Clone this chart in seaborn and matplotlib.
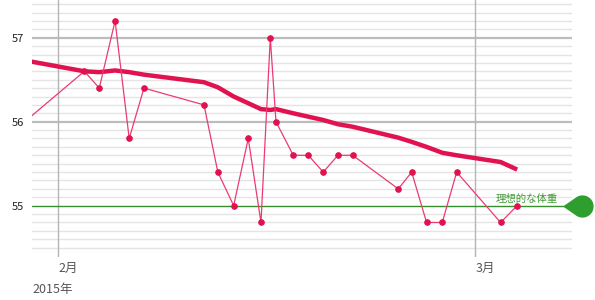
import numpy as np
import pandas as pd
import matplotlib
matplotlib.use("Agg")
import matplotlib.pyplot as plt
import matplotlib.dates as mdates
import matplotlib.transforms as mtransforms
from matplotlib.path import Path
import seaborn as sns

# ---- data ----
dates = ["2015-01-29 18:00", "2015-02-02 18:00", "2015-02-03 18:00", "2015-02-04 19:30",
         "2015-02-05 18:15", "2015-02-06 18:00", "2015-02-10 18:45", "2015-02-11 17:00",
         "2015-02-12 18:30", "2015-02-13 18:00", "2015-02-14 14:30", "2015-02-15 05:30",
         "2015-02-15 14:40", "2015-02-16 18:30", "2015-02-17 18:45", "2015-02-18 18:45",
         "2015-02-19 18:30", "2015-02-20 18:15", "2015-02-23 19:40", "2015-02-24 17:15",
         "2015-02-25 17:15", "2015-02-26 18:30", "2015-02-27 17:45", "2015-03-02 16:30",
         "2015-03-03 19:10"]
weight = [56.0, 56.6, 56.4, 57.2, 55.8, 56.4, 56.2, 55.4, 55.0, 55.8, 54.8, 57.0,
          56.0, 55.6, 55.6, 55.4, 55.6, 55.6, 55.2, 55.4, 54.8, 54.8, 55.4, 54.8, 55.0]
trend = [56.73, 56.60, 56.59, 56.61, 56.59, 56.56, 56.47, 56.41, 56.30, 56.22, 56.15, 56.14,
         56.15, 56.10, 56.06, 56.02, 55.97, 55.94, 55.81, 55.76, 55.70, 55.63, 55.60, 55.52, 55.43]
ideal_weight = 55.0
ideal_label = "理想的な体重"
y_ticks = [55, 56, 57]
month_ticks = ["2015-02-01", "2015-03-01"]
month_labels = ["2月", "3月"]
year_label = "2015年"

df = pd.DataFrame({"date": pd.to_datetime(dates), "weight": weight, "trend": trend})

sns.set_theme(style="white")
plt.rcParams["font.family"] = ["Noto Sans CJK JP", "DejaVu Sans"]

W, H, DPI = 595, 300, 100
fig = plt.figure(figsize=(W / DPI, H / DPI), dpi=DPI)
L, R, T, B = 32, 572, 0, 257
ax = fig.add_axes([L / W, 1 - B / H, (R - L) / W, (B - T) / H])

x0 = pd.Timestamp("2015-01-30 05:40")
x1 = pd.Timestamp("2015-03-07 11:30")
ax.set_xlim(x0, x1)
ax.set_ylim(54.389, 57.449)

# minor grid
for v in np.arange(54.5, 57.45, 0.1):
    if any(abs(v - t) < 1e-6 for t in y_ticks):
        continue
    ax.axhline(v, color="#e4e4e4", lw=1.0, zorder=0)
for t in y_ticks:
    if t != ideal_weight:
        ax.axhline(t, color="#bdbdbd", lw=1.6, zorder=0.5)
for m in month_ticks:
    ax.axvline(pd.Timestamp(m), color="#b4b4b4", lw=1.0, zorder=0.6)

# ideal weight line
ax.axhline(ideal_weight, color="#368f2c", lw=1.0, zorder=1)

sns.lineplot(data=df, x="date", y="trend", ax=ax, color="#e0124f", lw=3.2,
             zorder=2, solid_capstyle="butt")
sns.lineplot(data=df, x="date", y="weight", ax=ax, color="#ec3a72", lw=0.9,
             marker="o", markersize=4, markerfacecolor="#e0124f",
             markeredgecolor="#e0124f", zorder=3)

for s in ax.spines.values():
    s.set_visible(False)
ax.set_xlabel("")
ax.set_ylabel("")
ax.set_xticks([])
ax.set_yticks(y_ticks)
ax.set_yticklabels([str(t) for t in y_ticks], fontsize=8, color="#222222")
ax.tick_params(axis="y", length=0, pad=6)
ax.grid(False)

# x labels
trans_x = mtransforms.blended_transform_factory(ax.transData, ax.transAxes)
for m, lab in zip(month_ticks, month_labels):
    ax.text(mdates.date2num(pd.Timestamp(m)), -11 / (B - T), lab, transform=trans_x,
            ha="left", va="center", fontsize=9, color="#555555")
fig.text(L / W, 1 - 289 / H, year_label, ha="left", va="center", fontsize=9, color="#555555")

# ideal label and drop marker
trans_y = mtransforms.blended_transform_factory(ax.transAxes, ax.transData)
ax.text((558 - L) / (R - L), ideal_weight + 0.02, ideal_label, transform=trans_y,
        ha="right", va="bottom", fontsize=7.5, color="#3f9a33")

angs = np.linspace(np.deg2rad(126), np.deg2rad(-126), 40)
verts = [(-1.75, 0.0)] + [(np.cos(a), np.sin(a)) for a in angs] + [(-1.75, 0.0)]
codes = [Path.MOVETO] + [Path.LINETO] * (len(verts) - 2) + [Path.CLOSEPOLY]
drop = Path(verts, codes)
ax.plot([(582 - L) / (R - L)], [ideal_weight], transform=trans_y, marker=drop,
        markersize=28, color="#2e9e2e", markeredgewidth=0, clip_on=False, zorder=5)

fig.savefig("out.png", dpi=DPI)
